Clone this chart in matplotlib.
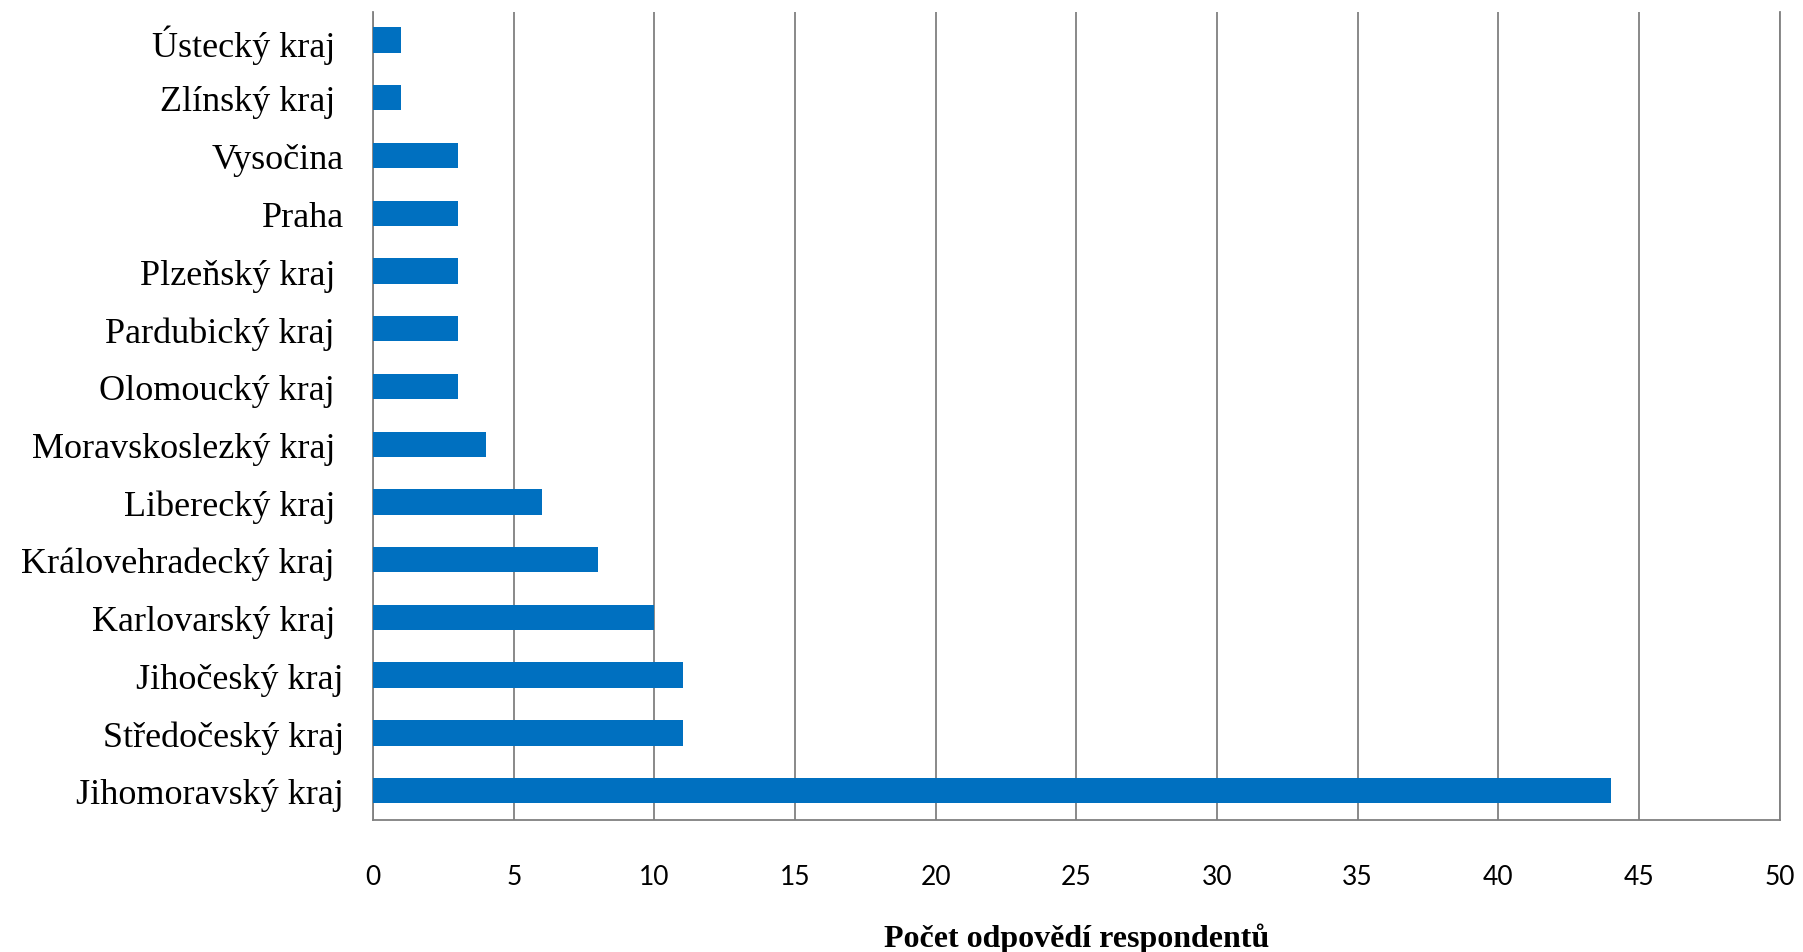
import matplotlib
matplotlib.use("Agg")
import matplotlib.pyplot as plt
import numpy as np

# kraje a počty odpovědí (odspodu nahoru)
kraje = ["Jihomoravský kraj", "Středočeský kraj", "Jihočeský kraj", "Karlovarský kraj ",
         "Královehradecký kraj ", "Liberecký kraj ", "Moravskoslezký kraj ", "Olomoucký kraj ",
         "Pardubický kraj ", "Plzeňský kraj ", "Praha", "Vysočina", "Zlínský kraj ", "Ústecký kraj "]
pocty = [44, 11, 11, 10, 8, 6, 4, 3, 3, 3, 3, 3, 1, 1]
xticks = [0, 5, 10, 15, 20, 25, 30, 35, 40, 45, 50]

fig = plt.figure(figsize=(18.03, 9.53), dpi=100)
ax = fig.add_axes([0.207, 0.139, 0.78, 0.847])

y = np.arange(len(kraje))
ax.barh(y, pocty, height=0.44, color="#0070C0", zorder=3)

ax.set_xlim(0, 50)
ax.set_ylim(-0.5, len(kraje) - 0.52)
ax.set_xticks(xticks)
ax.set_xticklabels([str(t) for t in xticks], fontsize=19, family="Lato")
ax.set_yticks(y)
ax.set_yticklabels(kraje, fontsize=26, family="Liberation Serif")
ax.tick_params(axis="both", length=0)
ax.tick_params(axis="x", pad=32)
ax.tick_params(axis="y", pad=21)

ax.grid(axis="x", color="#808080", linewidth=1.3, zorder=0)
ax.spines["top"].set_visible(False)
for s in ["left", "bottom", "right"]:
    ax.spines[s].set_color("#808080")
    ax.spines[s].set_linewidth(1.3)

ax.set_xlabel("Počet odpovědí respondentů", fontsize=23, fontweight="bold",
              family="Liberation Serif", labelpad=24)

fig.savefig("out.png", dpi=100)
